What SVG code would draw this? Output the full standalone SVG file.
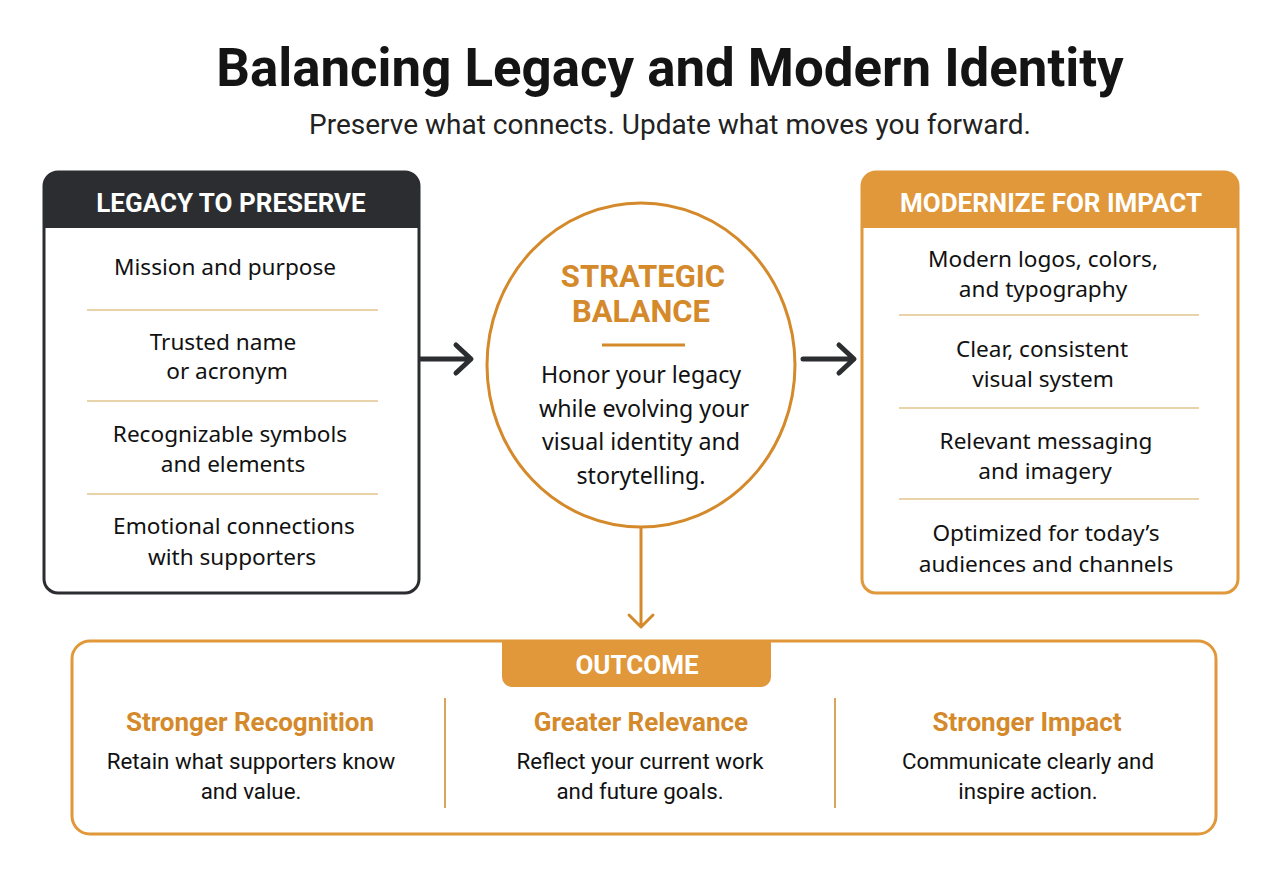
<svg xmlns="http://www.w3.org/2000/svg" width="1280" height="876" viewBox="0 0 1280 876">
<defs>
<style>
.title{font-family:Roboto,"Liberation Sans",sans-serif;font-weight:700;font-size:52.8px;fill:#141414}
.sub{font-family:Roboto,"Liberation Sans",sans-serif;font-size:28px;fill:#222}
.hdr{font-family:Roboto,"Liberation Sans",sans-serif;font-weight:700;font-size:26px;fill:#fff}
.item{font-family:"Noto Sans","Liberation Sans",sans-serif;font-size:22.6px;fill:#111}
.citem{font-family:"Noto Sans","Liberation Sans",sans-serif;font-size:23.2px;fill:#111}
.sep{stroke:#e2c58e;stroke-width:1.6}
.orange{font-family:Roboto,"Liberation Sans",sans-serif;font-weight:700;fill:#d4892a}
.body{font-family:Roboto,"Liberation Sans",sans-serif;font-size:22.3px;fill:#111}
.darr{fill:none;stroke:#2b2d30;stroke-width:5;stroke-linecap:round;stroke-linejoin:round}
.oarr{fill:none;stroke:#d4892a;stroke-width:3;stroke-linecap:round;stroke-linejoin:round}
</style>
</defs>
<rect width="1280" height="876" fill="#ffffff"/>
<g id="title">
<text class="title" x="670" y="86" text-anchor="middle">Balancing Legacy and Modern Identity</text>
<text class="sub" x="670" y="134" text-anchor="middle">Preserve what connects. Update what moves you forward.</text>
</g>
<g id="legacy">
<rect x="44" y="172" width="375" height="421" rx="14" fill="#fff" stroke="#2b2d30" stroke-width="3"/>
<path d="M44 228 V186 A14 14 0 0 1 58 172 H405 A14 14 0 0 1 419 186 V228 Z" fill="#2b2d30"/>
<text class="hdr" x="231" y="212" text-anchor="middle">LEGACY TO PRESERVE</text>
<text class="item" x="225" y="275" text-anchor="middle">Mission and purpose</text>
<line class="sep" x1="87" y1="310" x2="378" y2="310"/>
<text class="item" x="223" y="350" text-anchor="middle">Trusted name</text>
<text class="item" x="227" y="379" text-anchor="middle">or acronym</text>
<line class="sep" x1="87" y1="401" x2="378" y2="401"/>
<text class="item" x="230" y="442" text-anchor="middle">Recognizable symbols</text>
<text class="item" x="233" y="472" text-anchor="middle">and elements</text>
<line class="sep" x1="87" y1="494" x2="378" y2="494"/>
<text class="item" x="234" y="534" text-anchor="middle">Emotional connections</text>
<text class="item" x="232" y="565" text-anchor="middle">with supporters</text>
</g>
<g id="balance">
<ellipse cx="641" cy="365" rx="154" ry="162" fill="#fff" stroke="#d4892a" stroke-width="3"/>
<text class="orange" x="643" y="287" text-anchor="middle" font-size="31">STRATEGIC</text>
<text class="orange" x="641" y="322" text-anchor="middle" font-size="31">BALANCE</text>
<line x1="602" y1="345" x2="685" y2="345" stroke="#d4892a" stroke-width="3"/>
<text class="citem" x="641" y="383" text-anchor="middle">Honor your legacy</text>
<text class="citem" x="644" y="417" text-anchor="middle">while evolving your</text>
<text class="citem" x="641" y="450" text-anchor="middle">visual identity and</text>
<text class="citem" x="641" y="484" text-anchor="middle">storytelling.</text>
</g>
<g id="modernize">
<rect x="862" y="172" width="376" height="421" rx="14" fill="#fff" stroke="#e0983a" stroke-width="3"/>
<path d="M862 228 V186 A14 14 0 0 1 876 172 H1224 A14 14 0 0 1 1238 186 V228 Z" fill="#e0983a"/>
<text class="hdr" x="1051" y="212" text-anchor="middle">MODERNIZE FOR IMPACT</text>
<text class="item" x="1043" y="267" text-anchor="middle">Modern logos, colors,</text>
<text class="item" x="1043" y="297" text-anchor="middle">and typography</text>
<line class="sep" x1="899" y1="315" x2="1199" y2="315"/>
<text class="item" x="1042" y="357" text-anchor="middle">Clear, consistent</text>
<text class="item" x="1043" y="387" text-anchor="middle">visual system</text>
<line class="sep" x1="899" y1="408" x2="1199" y2="408"/>
<text class="item" x="1046" y="449" text-anchor="middle">Relevant messaging</text>
<text class="item" x="1045" y="479" text-anchor="middle">and imagery</text>
<line class="sep" x1="899" y1="499" x2="1199" y2="499"/>
<text class="item" x="1046" y="541" text-anchor="middle">Optimized for today’s</text>
<text class="item" x="1046" y="572" text-anchor="middle">audiences and channels</text>
</g>
<g id="outcome">
<rect x="72" y="641" width="1144" height="193" rx="18" fill="#fff" stroke="#e0983a" stroke-width="3"/>
<path d="M502 641 H771 V677 A10 10 0 0 1 761 687 H512 A10 10 0 0 1 502 677 Z" fill="#e0983a"/>
<text class="hdr" x="637" y="674" text-anchor="middle">OUTCOME</text>
<line x1="445" y1="698" x2="445" y2="808" stroke="#d9a55c" stroke-width="2"/>
<line x1="835" y1="698" x2="835" y2="808" stroke="#d9a55c" stroke-width="2"/>
<text class="orange" x="250" y="731" text-anchor="middle" font-size="26">Stronger Recognition</text>
<text class="body" x="251" y="769" text-anchor="middle">Retain what supporters know</text>
<text class="body" x="251" y="799" text-anchor="middle">and value.</text>
<text class="orange" x="641" y="731" text-anchor="middle" font-size="26">Greater Relevance</text>
<text class="body" x="640" y="769" text-anchor="middle">Reflect your current work</text>
<text class="body" x="640" y="799" text-anchor="middle">and future goals.</text>
<text class="orange" x="1027" y="731" text-anchor="middle" font-size="26">Stronger Impact</text>
<text class="body" x="1028" y="769" text-anchor="middle">Communicate clearly and</text>
<text class="body" x="1028" y="799" text-anchor="middle">inspire action.</text>
</g>
<g id="connectors">
<path class="darr" d="M421 359 H470 M456 345 L471 359 L456 373"/>
<path class="darr" d="M803 359 H853 M839 345 L854 359 L839 373"/>
<path class="oarr" d="M641 528 V627 M629 615 L641 627 L653 615"/>
</g>
</svg>
